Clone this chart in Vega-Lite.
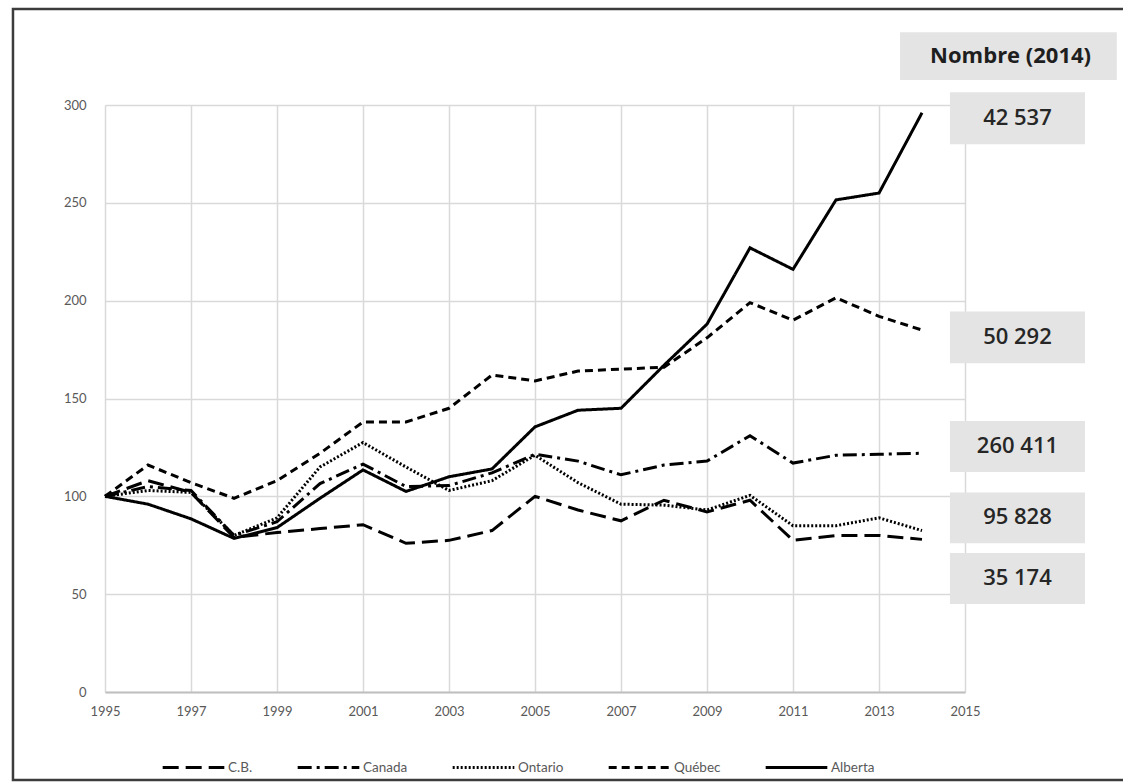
{
  "$schema": "https://vega.github.io/schema/vega-lite/v6.json",
  "width": 860,
  "height": 587,
  "autosize": "none",
  "padding": {"left": 105, "top": 105, "right": 158, "bottom": 90},
  "background": "white",
  "config": {"view": {"stroke": null}, "font": "Lato"},
  "datasets": {
    "series": [
      {"year": 1995, "region": "C.B.", "value": 100}, {"year": 1996, "region": "C.B.", "value": 108}, {"year": 1997, "region": "C.B.", "value": 102}, {"year": 1998, "region": "C.B.", "value": 79}, {"year": 1999, "region": "C.B.", "value": 81.5}, {"year": 2000, "region": "C.B.", "value": 83.5}, {"year": 2001, "region": "C.B.", "value": 85.5}, {"year": 2002, "region": "C.B.", "value": 76}, {"year": 2003, "region": "C.B.", "value": 77.5}, {"year": 2004, "region": "C.B.", "value": 82.5}, {"year": 2005, "region": "C.B.", "value": 100}, {"year": 2006, "region": "C.B.", "value": 93}, {"year": 2007, "region": "C.B.", "value": 87.5}, {"year": 2008, "region": "C.B.", "value": 98}, {"year": 2009, "region": "C.B.", "value": 92}, {"year": 2010, "region": "C.B.", "value": 98}, {"year": 2011, "region": "C.B.", "value": 77.5}, {"year": 2012, "region": "C.B.", "value": 80}, {"year": 2013, "region": "C.B.", "value": 80}, {"year": 2014, "region": "C.B.", "value": 78},
      {"year": 1995, "region": "Canada", "value": 100}, {"year": 1996, "region": "Canada", "value": 105}, {"year": 1997, "region": "Canada", "value": 103}, {"year": 1998, "region": "Canada", "value": 80}, {"year": 1999, "region": "Canada", "value": 87}, {"year": 2000, "region": "Canada", "value": 106.5}, {"year": 2001, "region": "Canada", "value": 116.5}, {"year": 2002, "region": "Canada", "value": 105}, {"year": 2003, "region": "Canada", "value": 105.5}, {"year": 2004, "region": "Canada", "value": 112}, {"year": 2005, "region": "Canada", "value": 121.5}, {"year": 2006, "region": "Canada", "value": 118}, {"year": 2007, "region": "Canada", "value": 111}, {"year": 2008, "region": "Canada", "value": 116}, {"year": 2009, "region": "Canada", "value": 118}, {"year": 2010, "region": "Canada", "value": 131}, {"year": 2011, "region": "Canada", "value": 117}, {"year": 2012, "region": "Canada", "value": 121}, {"year": 2013, "region": "Canada", "value": 121.5}, {"year": 2014, "region": "Canada", "value": 122},
      {"year": 1995, "region": "Ontario", "value": 100}, {"year": 1996, "region": "Ontario", "value": 103}, {"year": 1997, "region": "Ontario", "value": 102}, {"year": 1998, "region": "Ontario", "value": 80}, {"year": 1999, "region": "Ontario", "value": 89}, {"year": 2000, "region": "Ontario", "value": 115}, {"year": 2001, "region": "Ontario", "value": 127.5}, {"year": 2002, "region": "Ontario", "value": 115}, {"year": 2003, "region": "Ontario", "value": 103}, {"year": 2004, "region": "Ontario", "value": 108}, {"year": 2005, "region": "Ontario", "value": 121}, {"year": 2006, "region": "Ontario", "value": 107}, {"year": 2007, "region": "Ontario", "value": 96}, {"year": 2008, "region": "Ontario", "value": 95.5}, {"year": 2009, "region": "Ontario", "value": 93}, {"year": 2010, "region": "Ontario", "value": 100.5}, {"year": 2011, "region": "Ontario", "value": 85}, {"year": 2012, "region": "Ontario", "value": 85}, {"year": 2013, "region": "Ontario", "value": 89}, {"year": 2014, "region": "Ontario", "value": 82.5},
      {"year": 1995, "region": "Québec", "value": 100}, {"year": 1996, "region": "Québec", "value": 116}, {"year": 1997, "region": "Québec", "value": 107}, {"year": 1998, "region": "Québec", "value": 99}, {"year": 1999, "region": "Québec", "value": 108}, {"year": 2000, "region": "Québec", "value": 122}, {"year": 2001, "region": "Québec", "value": 138}, {"year": 2002, "region": "Québec", "value": 138}, {"year": 2003, "region": "Québec", "value": 145}, {"year": 2004, "region": "Québec", "value": 162}, {"year": 2005, "region": "Québec", "value": 159}, {"year": 2006, "region": "Québec", "value": 164}, {"year": 2007, "region": "Québec", "value": 165}, {"year": 2008, "region": "Québec", "value": 166}, {"year": 2009, "region": "Québec", "value": 181}, {"year": 2010, "region": "Québec", "value": 199}, {"year": 2011, "region": "Québec", "value": 190}, {"year": 2012, "region": "Québec", "value": 201.5}, {"year": 2013, "region": "Québec", "value": 192}, {"year": 2014, "region": "Québec", "value": 185},
      {"year": 1995, "region": "Alberta", "value": 100}, {"year": 1996, "region": "Alberta", "value": 96}, {"year": 1997, "region": "Alberta", "value": 88.5}, {"year": 1998, "region": "Alberta", "value": 78.5}, {"year": 1999, "region": "Alberta", "value": 84}, {"year": 2000, "region": "Alberta", "value": 99}, {"year": 2001, "region": "Alberta", "value": 113.5}, {"year": 2002, "region": "Alberta", "value": 102.5}, {"year": 2003, "region": "Alberta", "value": 110}, {"year": 2004, "region": "Alberta", "value": 114}, {"year": 2005, "region": "Alberta", "value": 135.5}, {"year": 2006, "region": "Alberta", "value": 144}, {"year": 2007, "region": "Alberta", "value": 145}, {"year": 2008, "region": "Alberta", "value": 167}, {"year": 2009, "region": "Alberta", "value": 188}, {"year": 2010, "region": "Alberta", "value": 227}, {"year": 2011, "region": "Alberta", "value": 216}, {"year": 2012, "region": "Alberta", "value": 251.5}, {"year": 2013, "region": "Alberta", "value": 255}, {"year": 2014, "region": "Alberta", "value": 296}
    ],
    "counts": [
      {"label": "42 537", "lo": 280, "hi": 306.5},
      {"label": "50 292", "lo": 168, "hi": 194.4},
      {"label": "260 411", "lo": 112.5, "hi": 138.5},
      {"label": "95 828", "lo": 76, "hi": 102},
      {"label": "35 174", "lo": 45, "hi": 71}
    ]
  },
  "layer": [
    {
      "data": {"name": "series"},
      "mark": {"type": "line", "color": "black", "strokeWidth": 3},
      "encoding": {
        "x": {
          "field": "year", "type": "quantitative",
          "scale": {"domain": [1995, 2015], "nice": false, "zero": false},
          "axis": {
            "title": null, "values": [1995, 1997, 1999, 2001, 2003, 2005, 2007, 2009, 2011, 2013, 2015],
            "format": "d", "grid": true, "gridColor": "#d9d9d9", "gridWidth": 1.5,
            "domainColor": "#c0c0c0", "domainWidth": 2, "ticks": false, "labelFlush": false,
            "labelFont": "Lato", "labelFontSize": 13, "labelColor": "#595959", "labelPadding": 13
          }
        },
        "y": {
          "field": "value", "type": "quantitative",
          "scale": {"domain": [0, 300], "nice": false},
          "axis": {
            "title": null, "values": [0, 50, 100, 150, 200, 250, 300],
            "grid": true, "gridColor": "#d9d9d9", "gridWidth": 1.5, "domain": false, "ticks": false, "labelFlush": false,
            "labelFont": "Lato", "labelFontSize": 13, "labelColor": "#595959", "labelPadding": 19
          }
        },
        "strokeDash": {
          "field": "region", "type": "nominal",
          "scale": {
            "domain": ["C.B.", "Canada", "Ontario", "Québec", "Alberta"],
            "range": [[16, 7], [14, 5, 3, 5], [2, 2], [8, 5], [1, 0]]
          },
          "legend": {
            "title": null, "orient": "none", "legendX": 56, "legendY": 630, "direction": "horizontal",
            "symbolType": "stroke", "symbolSize": 3800, "symbolStrokeWidth": 3, "symbolStrokeColor": "black",
            "labelFont": "Lato", "labelFontSize": 13.5, "labelColor": "#595959",
            "labelOffset": 2, "columnPadding": 38
          }
        }
      }
    },
    {
      "data": {"values": [{}]},
      "mark": {"type": "rect", "fill": "white", "fillOpacity": 0, "stroke": "#3c3c3c", "strokeWidth": 2.5},
      "encoding": {
        "x": {"datum": 1992.86, "type": "quantitative"},
        "x2": {"datum": 2018.75},
        "y": {"datum": 349, "type": "quantitative"},
        "y2": {"datum": -45}
      }
    },
    {
      "data": {"values": [{}]},
      "mark": {"type": "rect", "fill": "#e4e4e4"},
      "encoding": {
        "x": {"datum": 2013.49, "type": "quantitative"},
        "x2": {"datum": 2018.53},
        "y": {"datum": 337.2, "type": "quantitative"},
        "y2": {"datum": 312.8}
      }
    },
    {
      "data": {"values": [{"label": "Nombre (2014)"}]},
      "mark": {"type": "text", "font": "Open Sans", "fontWeight": "bold", "fontSize": 22, "color": "#1e1e1e", "align": "center", "baseline": "middle"},
      "encoding": {
        "x": {"datum": 2016.06, "type": "quantitative"},
        "y": {"datum": 325, "type": "quantitative"},
        "text": {"field": "label"}
      }
    },
    {
      "data": {"name": "counts"},
      "mark": {"type": "rect", "fill": "#e4e4e4"},
      "encoding": {
        "x": {"datum": 2014.65, "type": "quantitative"},
        "x2": {"datum": 2017.79},
        "y": {"field": "lo", "type": "quantitative"},
        "y2": {"field": "hi"}
      }
    },
    {
      "data": {"name": "counts"},
      "mark": {"type": "text", "font": "Open Sans", "fontWeight": 600, "fontSize": 22, "color": "#262626", "align": "center", "baseline": "middle", "dy": -26},
      "encoding": {
        "x": {"datum": 2016.22, "type": "quantitative"},
        "y": {"field": "lo", "type": "quantitative"},
        "text": {"field": "label"}
      }
    }
  ]
}
